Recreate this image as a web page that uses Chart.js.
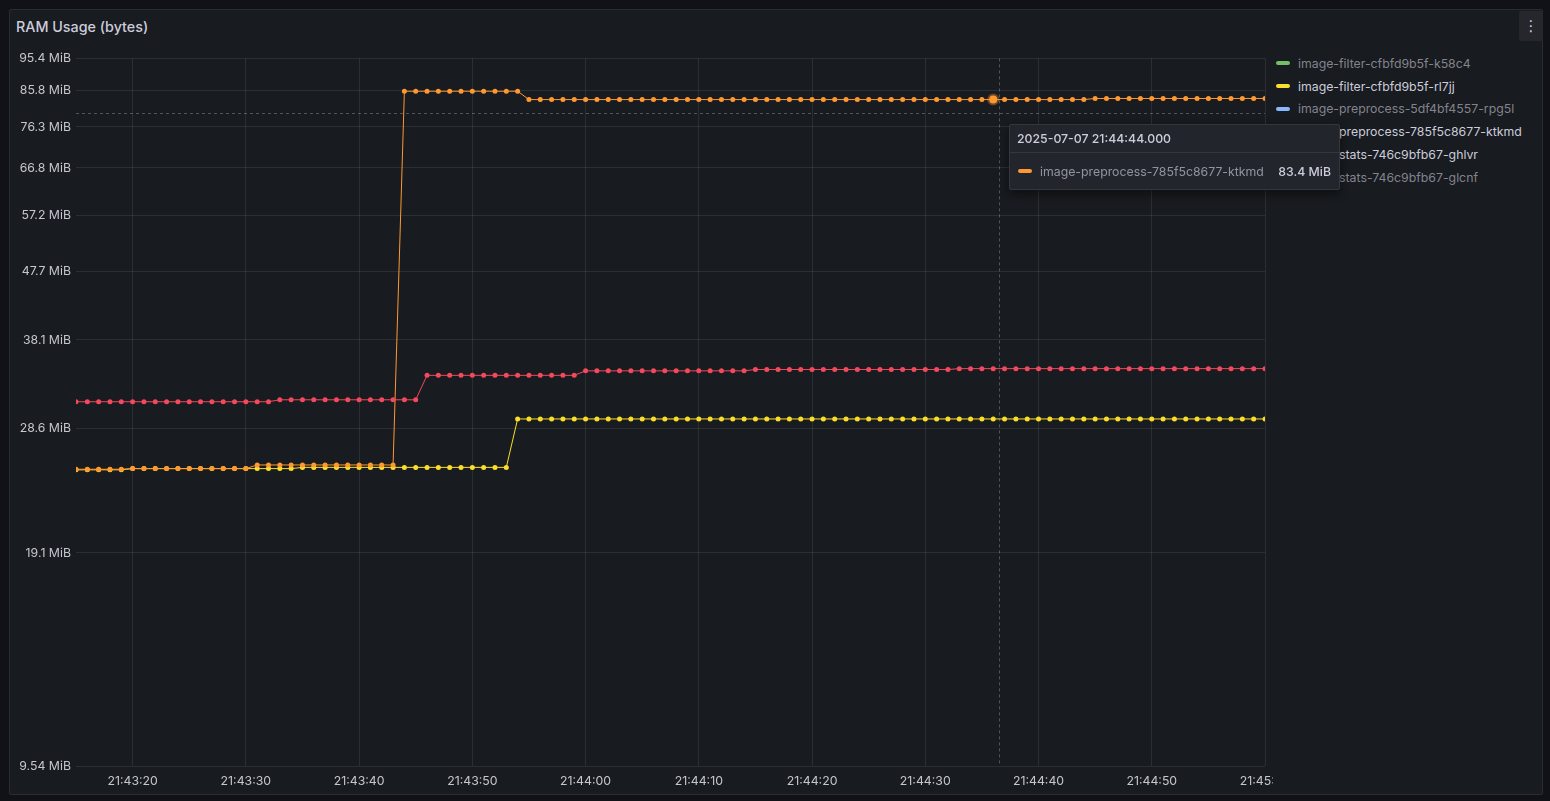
<!DOCTYPE html>
<html>
<head>
<meta charset="utf-8">
<script src="https://cdn.jsdelivr.net/npm/chart.js@4/dist/chart.umd.min.js"></script>
<style>
  html, body { margin:0; padding:0; background:#111217; width:1550px; height:801px; overflow:hidden; font-family: Inter, "Noto Sans", sans-serif; }
  #panel { position:absolute; left:9px; top:9px; width:1532px; height:784px; background:#181b1f; border:1px solid #2a2c31; border-radius:2px; }
  #title { position:absolute; left:16px; top:18px; font-size:14.3px; font-weight:500; color:#ccccdc; line-height:18px; white-space:nowrap; }
  #menu { position:absolute; left:1519px; top:11px; width:24px; height:30px; background:#25272c; border-radius:2px; color:#ccccdc; font-family:"DejaVu Sans", sans-serif; font-size:15px; line-height:30px; text-align:center; }
  #clip { position:absolute; left:10px; top:46px; width:1263px; height:748px; overflow:hidden; }
  #c { display:block; }
  #legend { position:absolute; left:1276px; top:52px; }
  .li { height:22.8px; display:flex; align-items:center; font-size:12.3px; white-space:nowrap; }
  .mk { width:14px; height:4px; border-radius:2px; margin-right:8px; flex:none; }
  #tip { position:absolute; width:329px; background:#22252b; border:1px solid #34373e; border-radius:2px; box-shadow:0 4px 10px rgba(0,0,0,0.45); z-index:5; }
  #tipHead { height:27px; line-height:28px; padding-left:7px; border-bottom:1px solid #34373e; font-size:12.3px; font-weight:500; color:#ccccdc; white-space:nowrap; }
  #tipRow { height:36px; display:flex; align-items:center; padding:0 8px; font-size:12.3px; white-space:nowrap; }
  #tipName { flex:1; color:rgba(204,204,220,0.65); }
  #tipVal { font-weight:500; color:#ccccdc; }
</style>
</head>
<body>
<div id="panel"></div>
<div id="title">RAM Usage (bytes)</div>
<div id="menu">⋮</div>
<div id="clip"><canvas id="c" width="1290" height="748" style="width:1290px;height:748px"></canvas></div>
<div id="legend"></div>
<div id="tip">
  <div id="tipHead"></div>
  <div id="tipRow"><span class="mk" id="tipMk"></span><span id="tipName"></span><span id="tipVal"></span></div>
</div>
<script>
// ---------- data ----------
const seriesNames = [
  'image-filter-cfbfd9b5f-k58c4',
  'image-filter-cfbfd9b5f-rl7jj',
  'image-preprocess-5df4bf4557-rpg5l',
  'image-preprocess-785f5c8677-ktkmd',
  'image-stats-746c9bfb67-ghlvr',
  'image-stats-746c9bfb67-glcnf'
];
const seriesColors = ['#73BF69', '#FADE2A', '#8AB8FF', '#FF9830', '#F2495C', '#B877D9'];
const seriesVisible = [false, true, false, true, true, false];

// sample times: seconds after 21:43:15, one sample per second
const sampleCount = 106;
const sampleSeconds = Array.from({length: sampleCount}, (_, i) => i);

// values in MiB
const rl7jjMiB = [
  25.0,25.0,25.0,25.0,25.0,25.1,25.1,25.1,25.1,25.1,
  25.1,25.1,25.1,25.1,25.1,25.1,25.1,25.1,25.1,25.1,
  25.2,25.2,25.2,25.2,25.2,25.2,25.2,25.2,25.2,25.2,
  25.2,25.2,25.2,25.2,25.2,25.2,25.2,25.2,25.2,29.5,
  29.5,29.5,29.5,29.5,29.5,29.5,29.5,29.5,29.5,29.5,
  29.5,29.5,29.5,29.5,29.5,29.5,29.5,29.5,29.5,29.5,
  29.5,29.5,29.5,29.5,29.5,29.5,29.5,29.5,29.5,29.5,
  29.5,29.5,29.5,29.5,29.5,29.5,29.5,29.5,29.5,29.5,
  29.5,29.5,29.5,29.5,29.5,29.5,29.5,29.5,29.5,29.5,
  29.5,29.5,29.5,29.5,29.5,29.5,29.5,29.5,29.5,29.5,
  29.5,29.5,29.5,29.5,29.5,29.5
];
const ktkmdMiB = [
  25.05,25.05,25.05,25.05,25.05,25.1,25.1,25.1,25.1,25.1,
  25.1,25.1,25.1,25.1,25.1,25.1,25.4,25.4,25.4,25.4,
  25.4,25.4,25.4,25.4,25.4,25.4,25.4,25.4,25.4,85.7,
  85.7,85.7,85.7,85.7,85.7,85.7,85.7,85.7,85.7,85.7,
  83.4,83.4,83.4,83.4,83.4,83.4,83.4,83.4,83.4,83.4,
  83.4,83.4,83.4,83.4,83.4,83.4,83.4,83.4,83.4,83.4,
  83.4,83.4,83.4,83.4,83.4,83.4,83.4,83.4,83.4,83.4,
  83.4,83.4,83.4,83.4,83.4,83.4,83.4,83.4,83.4,83.4,
  83.4,83.4,83.4,83.4,83.4,83.4,83.4,83.4,83.4,83.4,
  83.7,83.7,83.7,83.7,83.7,83.7,83.7,83.7,83.7,83.7,
  83.7,83.7,83.7,83.7,83.7,83.7
];
const ghlvrMiB = [
  31.2,31.2,31.2,31.2,31.2,31.2,31.2,31.2,31.2,31.2,
  31.2,31.2,31.2,31.2,31.2,31.2,31.2,31.2,31.4,31.4,
  31.4,31.4,31.4,31.4,31.4,31.4,31.4,31.4,31.4,31.4,
  31.4,34.0,34.0,34.0,34.0,34.0,34.0,34.0,34.0,34.0,
  34.0,34.0,34.0,34.0,34.0,34.5,34.5,34.5,34.5,34.5,
  34.5,34.5,34.5,34.5,34.5,34.5,34.5,34.5,34.5,34.5,
  34.65,34.65,34.65,34.65,34.65,34.65,34.65,34.65,34.65,34.65,
  34.65,34.65,34.65,34.65,34.65,34.65,34.65,34.65,34.75,34.75,
  34.75,34.75,34.75,34.75,34.75,34.75,34.75,34.75,34.75,34.75,
  34.75,34.75,34.75,34.75,34.75,34.75,34.75,34.75,34.75,34.75,
  34.75,34.75,34.75,34.75,34.75,34.75
];

// axis ticks
const xTickSeconds = [5, 15, 25, 35, 45, 55, 65, 75, 85, 95, 105];
const xTickLabels = ['21:43:20','21:43:30','21:43:40','21:43:50','21:44:00','21:44:10','21:44:20','21:44:30','21:44:40','21:44:50','21:45:00'];
const yTickBytes = [1e7, 2e7, 3e7, 4e7, 5e7, 6e7, 7e7, 8e7, 9e7, 1e8];
const yTickLabels = ['9.54 MiB','19.1 MiB','28.6 MiB','38.1 MiB','47.7 MiB','57.2 MiB','66.8 MiB','76.3 MiB','85.8 MiB','95.4 MiB'];

// hover state shown in the picture
const hoverSeries = 3;
const hoverIndex = 81;
const hoverTimeLabel = '2025-07-07 21:44:44.000';
const cursorSeconds = 81.5;
const cursorMiB = 79.8;

// ---------- chart ----------
const MiB = 1048576;
const gridColor = 'rgba(240,250,255,0.09)';
const tickColor = '#c6c6d1';
Chart.defaults.font.family = 'Inter, "Noto Sans", sans-serif';

function hexToRgba(hex, a) {
  const n = parseInt(hex.slice(1), 16);
  return `rgba(${(n >> 16) & 255},${(n >> 8) & 255},${n & 255},${a})`;
}
function makeDataset(i, vals, order) {
  return {
    label: seriesNames[i],
    data: vals.map((v, k) => ({x: sampleSeconds[k], y: v * MiB})),
    borderColor: seriesColors[i],
    backgroundColor: seriesColors[i],
    borderWidth: 1,
    pointRadius: 2.5,
    pointBorderWidth: 0,
    pointHoverRadius: 4,
    pointHoverBorderWidth: 4,
    pointHoverBorderColor: hexToRgba(seriesColors[i], 0.35),
    pointHoverBackgroundColor: seriesColors[i],
    tension: 0,
    fill: false,
    order: order
  };
}

const crosshair = {
  id: 'crosshair',
  afterDatasetsDraw(chart) {
    const {ctx, chartArea: a, scales: {x, y}} = chart;
    const px = Math.round(x.getPixelForValue(cursorSeconds)) + 0.5;
    const py = Math.round(y.getPixelForValue(cursorMiB * MiB)) + 0.5;
    ctx.save();
    ctx.strokeStyle = 'rgba(204,204,220,0.32)';
    ctx.lineWidth = 1;
    ctx.setLineDash([3, 3]);
    ctx.beginPath();
    ctx.moveTo(px, a.top); ctx.lineTo(px, a.bottom);
    ctx.moveTo(a.left, py); ctx.lineTo(a.right, py);
    ctx.stroke();
    ctx.restore();
  }
};

const chart = new Chart(document.getElementById('c'), {
  type: 'line',
  data: {
    datasets: [
      makeDataset(1, rl7jjMiB, 3),
      makeDataset(3, ktkmdMiB, 2),
      makeDataset(4, ghlvrMiB, 1)
    ]
  },
  options: {
    responsive: false,
    animation: false,
    events: [],
    layout: {padding: {top: 12, right: 35, bottom: 0, left: 0}},
    plugins: {legend: {display: false}, tooltip: {enabled: false}},
    scales: {
      x: {
        type: 'linear', min: 0, max: 105,
        afterBuildTicks: s => { s.ticks = xTickSeconds.map(v => ({value: v})); },
        afterFit: s => { s.height = 28; },
        ticks: {callback: (v, i) => xTickLabels[i], color: tickColor, font: {size: 12.3}, padding: 8, maxRotation: 0, autoSkip: false},
        grid: {color: gridColor, drawTicks: false},
        border: {display: false}
      },
      y: {
        type: 'logarithmic', min: 1e7, max: 1e8,
        afterBuildTicks: s => { s.ticks = yTickBytes.map(v => ({value: v})); },
        afterFit: s => { s.width = 66; },
        ticks: {callback: (v, i) => yTickLabels[i], color: tickColor, font: {size: 12.3}, padding: 5, autoSkip: false},
        grid: {color: gridColor, drawTicks: false},
        border: {display: false}
      }
    }
  },
  plugins: [crosshair]
});

chart.setActiveElements([{datasetIndex: 1, index: hoverIndex}]);
chart.render();

// ---------- legend ----------
const legend = document.getElementById('legend');
seriesNames.forEach((name, i) => {
  const row = document.createElement('div');
  row.className = 'li';
  row.style.color = seriesVisible[i] ? '#ccccdc' : 'rgba(204,204,220,0.6)';
  const mk = document.createElement('span');
  mk.className = 'mk';
  mk.style.background = seriesColors[i];
  row.appendChild(mk);
  row.appendChild(document.createTextNode(name));
  legend.appendChild(row);
});

// ---------- tooltip ----------
const tip = document.getElementById('tip');
const clipBox = document.getElementById('clip');
const cx = chart.scales.x.getPixelForValue(cursorSeconds) + clipBox.offsetLeft;
const cy = chart.scales.y.getPixelForValue(cursorMiB * MiB) + clipBox.offsetTop;
tip.style.left = Math.round(cx + 10) + 'px';
tip.style.top = Math.round(cy + 11) + 'px';
document.getElementById('tipHead').textContent = hoverTimeLabel;
document.getElementById('tipMk').style.background = seriesColors[hoverSeries];
document.getElementById('tipName').textContent = seriesNames[hoverSeries];
document.getElementById('tipVal').textContent = ktkmdMiB[hoverIndex].toFixed(1) + ' MiB';
</script>
</body>
</html>
